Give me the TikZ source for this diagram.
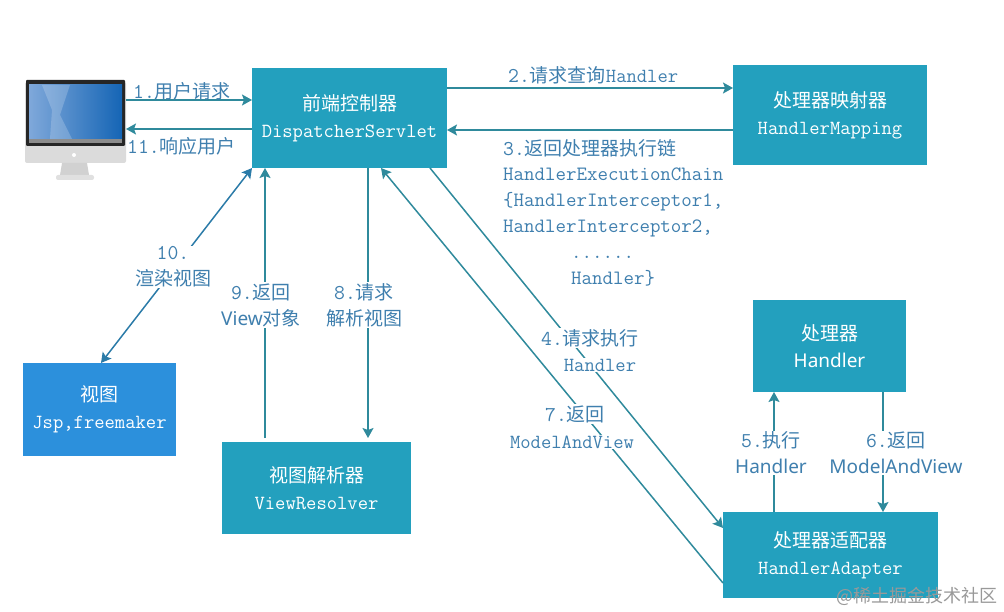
\documentclass[tikz,border=0pt]{standalone}
\usepackage{fontspec}
\setmainfont{Noto Sans CJK SC}
\setmonofont{Latin Modern Mono}[Scale=1.055]
\newfontfamily\sansfont{Noto Sans}
\usetikzlibrary{arrows.meta}

\definecolor{boxteal}{HTML}{23A0BE}
\definecolor{boxblue}{HTML}{2C90DC}
\definecolor{linteal}{HTML}{2F8A9C}
\definecolor{linblue}{HTML}{2B7BA8}
\definecolor{txtblue}{HTML}{3F7FAE}
\definecolor{scrleft}{HTML}{7FA8DA}
\definecolor{scrright}{HTML}{1565B5}

\newcommand{\stepno}[1]{{\fontsize{20}{26}\selectfont\ttfamily #1}}

\tikzset{
    box/.style={fill=boxteal, text=white, align=center, inner sep=0pt, outer sep=0pt,
        font=\fontsize{19}{27}\selectfont, execute at begin node={\rule{0pt}{20pt}}},
    flow/.style={draw=linteal, line width=1.5pt, -{Stealth[length=10pt,width=11pt,inset=2pt]}},
    lbl/.style={fill=white, text=txtblue, align=center, inner sep=1pt,
        font=\fontsize{19}{26}\selectfont},
    plain/.style={text=txtblue, align=left, inner sep=0pt, anchor=west,
        font=\fontsize{19}{26}\selectfont}
}

\begin{document}
\begin{tikzpicture}[x=1pt,y=-1pt]
    \useasboundingbox (0,0) rectangle (1004,612);

    % computer
    \node[minimum width=101pt, minimum height=100pt, inner sep=0pt, outer sep=0pt] (pc) at (75.5,130) {};
    \fill[black!14, rounded corners=2pt] (25,82) rectangle (126,163);
    \fill[black!85, rounded corners=1pt] (26,80) rectangle (125,146);
    \fill[left color=scrleft, right color=scrright] (29,85) rectangle (122,139);
    \fill[white, opacity=0.2] (42,85) -- (70,85) -- (60,115) -- (72,139) -- (50,139) -- (52,110) -- cycle;
    \fill[black!45] (29,139) rectangle (122,143);
    \fill[white] (74,155) circle (2pt);
    \fill[black!18] (62,163) -- (87,163) -- (89,175) -- (60,175) -- cycle;
    \fill[black!12, rounded corners=2pt] (56,175) rectangle (94,180);

    % boxes
    \node[box, minimum width=195pt, minimum height=100pt] (front) at (349.5,118)
        {前端控制器\\ \ttfamily DispatcherServlet};
    \node[box, minimum width=194pt, minimum height=100pt] (mapper) at (830,115)
        {处理器映射器\\ \ttfamily HandlerMapping};
    \node[box, minimum width=153pt, minimum height=92pt] (handler) at (829.5,346)
        {处理器\\ \sansfont Handler};
    \node[box, minimum width=215pt, minimum height=86pt] (adapter) at (830.5,555)
        {处理器适配器\\ \ttfamily HandlerAdapter};
    \node[box, minimum width=189pt, minimum height=92pt] (resolver) at (316.5,488)
        {视图解析器\\ \ttfamily ViewResolver};
    \node[box, fill=boxblue, minimum width=153pt, minimum height=93pt] (view) at (99.5,409.5)
        {视图\\ \ttfamily Jsp,freemaker};

    % arrows
    \draw[flow] ([yshift=30pt]pc.east) -- ([yshift=18pt]front.west);
    \draw[flow] ([yshift=-11pt]front.west) -- ([yshift=1pt]pc.east);
    \draw[flow] ([yshift=30pt]front.east) -- ([yshift=27pt]mapper.west);
    \draw[flow] ([yshift=-15pt]mapper.west) -- ([yshift=-12pt]front.east);
    \draw[flow, draw=linblue, {Stealth[length=10pt,width=11pt,inset=2pt]}-{Stealth[length=10pt,width=11pt,inset=2pt]}]
        (front.south west) -- ([xshift=1.5pt]view.north);
    \draw[flow] ([xshift=-51.5pt,yshift=4pt]resolver.north) -- ([xshift=-84.5pt]front.south);
    \draw[flow] ([xshift=18.5pt]front.south) -- ([xshift=51.5pt,yshift=4pt]resolver.north);
    \draw[flow] ([yshift=-28pt]adapter.west) -- ([xshift=31.5pt]front.south);
    \draw[flow] ([xshift=80.5pt]front.south) -- ([yshift=27pt]adapter.west);
    \draw[flow] ([xshift=-56.5pt]adapter.north) -- ([xshift=-55.5pt]handler.south);
    \draw[flow] ([xshift=53.5pt]handler.south) -- ([xshift=52.5pt]adapter.north);

    % labels
    \node[plain] (t1) at (133,91) {\stepno{1.}用户请求};
    \node[plain] (t11) at (127,146) {\stepno{11.}响应用户};
    \node[plain] (t2) at (508,75) {\stepno{2.}请求查询\ttfamily Handler};
    \node[plain] (t3) at (503,148) {\stepno{3.}返回处理器执行链};
    \node[plain, anchor=north west, font=\fontsize{19.3}{26}\selectfont\ttfamily] (t3b) at (503,168)
        {HandlerExecutionChain\\ \{HandlerInterceptor1,\\ HandlerInterceptor2,\\
         \hspace*{68pt}......\\ \hspace*{68pt}Handler\}};
    \node[lbl] (t10) at (173,267) {\stepno{10.}\\ 渲染视图};
    \node[lbl] (t9) at (261,305) {\stepno{9.}返回\\ {\sansfont View}对象};
    \node[lbl] (t8) at (364,305) {\stepno{8.}请求\\ 解析视图};
    \node[lbl] (t4) at (590,338) {\stepno{4.}请求执行};
    \node[lbl] (t4b) at (600,365) {\ttfamily Handler};
    \node[lbl] (t7) at (575,414) {\stepno{7.}返回};
    \node[lbl] (t7b) at (572,442) {\ttfamily ModelAndView};
    \node[lbl] (t5) at (771,453) {\stepno{5.}执行\\ \sansfont Handler};
    \node[lbl] (t6) at (896,453) {\stepno{6.}返回\\ \sansfont ModelAndView};
    \node[anchor=east, inner sep=0pt, text=black!40, font=\fontsize{18}{20}\selectfont] (mark) at (998,596) {@稀土掘金技术社区};
\end{tikzpicture}
\end{document}
